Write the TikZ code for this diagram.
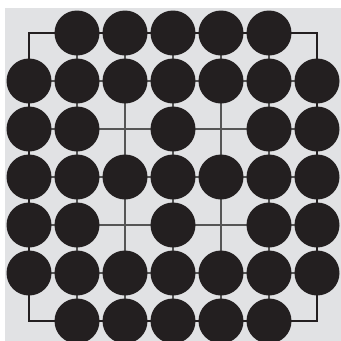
\documentclass[tikz,border=0pt]{standalone}
\definecolor{bg}{HTML}{E1E2E4}
\definecolor{ink}{HTML}{231F20}
\definecolor{thin}{HTML}{555555}
\tikzset{
  stone/.style={circle,fill=ink,draw=none,minimum size=45pt,inner sep=0pt},
  gridline/.style={draw=thin,line width=1.3pt},
  frameline/.style={draw=ink,line width=2.6pt}
}
\begin{document}
\begin{tikzpicture}[x=1pt,y=-1pt]
\useasboundingbox (0,0) rectangle (341,341);
\fill[bg] (5,8) rectangle (341,341);
% grid points
\foreach \i in {0,...,6}{
  \foreach \j in {0,...,6}{
    \coordinate (p\i\j) at ({29+48*\i},{33+48*\j});
  }
}
% thin inner lines
\foreach \k in {1,...,5}{
  \draw[gridline] (p\k0) -- (p\k6);
  \draw[gridline] (p0\k) -- (p6\k);
}
% frame
\draw[frameline] (p00) rectangle (p66);
% stones: row j, columns listed
\foreach \j/\cols in {0/{1,2,3,4,5},1/{0,1,2,3,4,5,6},2/{0,1,3,5,6},3/{0,1,2,3,4,5,6},4/{0,1,3,5,6},5/{0,1,2,3,4,5,6},6/{1,2,3,4,5}}{
  \foreach \i in \cols{
    \node[stone] (s\i\j) at (p\i\j) {};
  }
}
\end{tikzpicture}
\end{document}
